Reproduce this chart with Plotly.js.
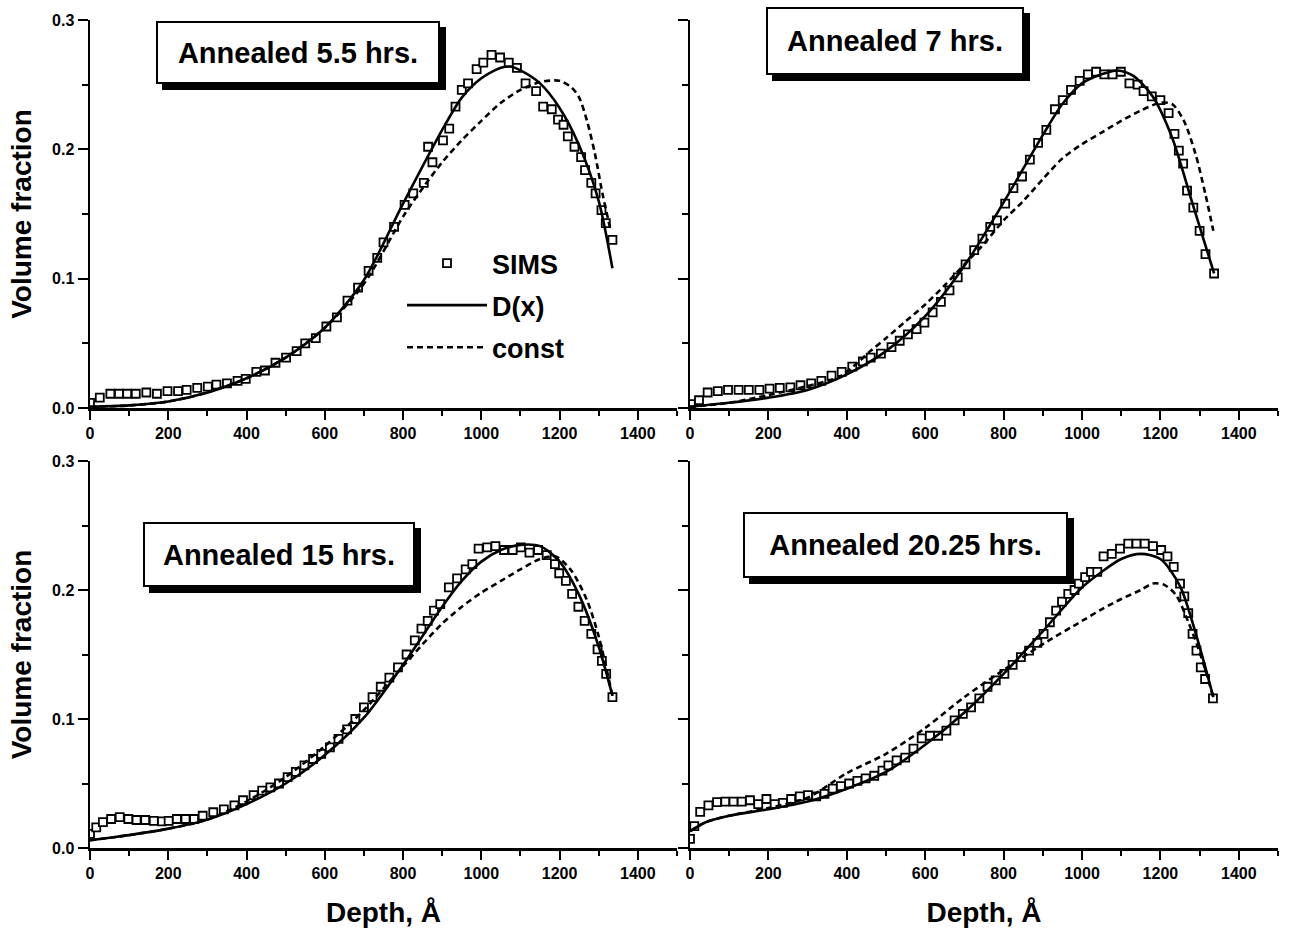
<!DOCTYPE html>
<html>
<head>
<meta charset="utf-8">
<script src="https://cdn.plot.ly/plotly-3.0.1.min.js"></script>
<style>html,body{margin:0;padding:0;background:#fff;}#chart{width:1290px;height:928px;}</style>
</head>
<body>
<div id="chart"></div>
<script>
// ---------- data ----------
const panelTitles = ["Annealed 5.5 hrs.", "Annealed 7 hrs.", "Annealed 15 hrs.", "Annealed 20.25 hrs."];
const seriesNames = ["SIMS", "D(x)", "const"];
const xTitle = "Depth, Å";
const yTitle = "Volume fraction";

// Panel 1: 5.5 hrs
const sims1X = [0,25,52,74,95,117,144,171,198,225,247,274,301,323,350,377,398,425,447,474,501,528,550,577,604,631,658,685,712,734,750,777,804,826,853,864,875,902,918,934,950,966,988,1005,1026,1048,1070,1091,1113,1140,1158,1180,1196,1210,1221,1238,1255,1265,1281,1292,1307,1318,1335];
const sims1Y = [0.004,0.008,0.011,0.011,0.011,0.011,0.012,0.011,0.013,0.013,0.014,0.0155,0.0165,0.018,0.019,0.021,0.0225,0.028,0.029,0.035,0.039,0.044,0.050,0.054,0.063,0.070,0.083,0.093,0.106,0.116,0.128,0.140,0.157,0.166,0.174,0.202,0.190,0.207,0.216,0.233,0.246,0.251,0.262,0.267,0.273,0.271,0.267,0.263,0.251,0.245,0.233,0.231,0.223,0.219,0.210,0.202,0.194,0.184,0.174,0.166,0.153,0.143,0.130];
const fit1X = [0,100,200,300,400,500,600,700,800,900,950,1000,1050,1075,1100,1150,1200,1250,1300,1335];
const d1Y = [0.001,0.002,0.005,0.012,0.023,0.039,0.062,0.099,0.158,0.215,0.240,0.255,0.263,0.264,0.261,0.251,0.232,0.203,0.160,0.108];
const c1X = [0,100,200,300,400,500,600,700,800,850,900,950,1000,1050,1100,1150,1200,1230,1250,1270,1290,1310,1330];
const c1Y = [0.001,0.002,0.005,0.012,0.023,0.039,0.062,0.096,0.148,0.170,0.190,0.207,0.222,0.236,0.246,0.252,0.253,0.248,0.240,0.222,0.197,0.165,0.138];

// Panel 2: 7 hrs
const sims2X = [2,23,45,71,97,124,150,177,203,229,256,282,309,335,361,387,414,441,461,487,514,535,556,578,598,619,640,662,683,703,725,746,766,783,804,825,847,867,888,909,931,951,972,994,1015,1036,1057,1078,1099,1121,1142,1157,1178,1200,1221,1236,1247,1258,1268,1284,1300,1315,1337];
const sims2Y = [0.003,0.006,0.012,0.013,0.014,0.014,0.014,0.014,0.015,0.0155,0.016,0.0176,0.019,0.021,0.025,0.028,0.032,0.036,0.039,0.042,0.047,0.052,0.057,0.061,0.066,0.074,0.082,0.091,0.101,0.111,0.122,0.131,0.140,0.145,0.158,0.170,0.179,0.192,0.205,0.215,0.231,0.238,0.246,0.253,0.258,0.260,0.258,0.258,0.260,0.251,0.250,0.245,0.241,0.238,0.228,0.212,0.199,0.189,0.168,0.155,0.137,0.119,0.104];
const fit2X = [0,100,200,300,400,500,600,700,800,900,950,1000,1050,1090,1130,1180,1230,1280,1337];
const d2Y = [0.001,0.004,0.008,0.014,0.026,0.044,0.071,0.110,0.159,0.211,0.235,0.251,0.258,0.261,0.257,0.241,0.209,0.160,0.104];
const c2X = [0,100,200,300,380,420,460,500,550,600,650,700,750,800,850,900,950,1000,1050,1100,1150,1200,1230,1260,1290,1315,1335];
const c2Y = [0.001,0.004,0.010,0.017,0.024,0.033,0.044,0.054,0.067,0.080,0.095,0.111,0.127,0.145,0.160,0.177,0.193,0.204,0.213,0.222,0.230,0.236,0.235,0.222,0.196,0.165,0.137];

// Panel 3: 15 hrs
const sims3X = [0,16,33,54,76,98,119,141,163,184,201,222,244,266,288,315,342,369,391,418,440,461,483,505,526,548,570,591,613,635,657,678,700,722,743,765,787,809,830,847,863,879,895,917,938,960,977,993,1015,1036,1058,1080,1101,1123,1145,1167,1188,1199,1216,1232,1248,1264,1281,1297,1308,1319,1335];
const sims3Y = [0.011,0.016,0.020,0.0225,0.024,0.0225,0.0217,0.0217,0.021,0.0207,0.021,0.0225,0.0225,0.0225,0.025,0.0277,0.030,0.033,0.037,0.041,0.0445,0.047,0.050,0.055,0.059,0.064,0.069,0.073,0.078,0.0846,0.092,0.100,0.109,0.117,0.125,0.132,0.140,0.150,0.161,0.170,0.176,0.184,0.189,0.202,0.209,0.216,0.220,0.232,0.233,0.234,0.231,0.231,0.233,0.229,0.231,0.227,0.220,0.213,0.207,0.197,0.187,0.176,0.166,0.154,0.145,0.135,0.117];
const fit3X = [0,50,100,200,300,400,500,600,700,800,900,950,1000,1050,1100,1150,1200,1250,1300,1335];
const d3Y = [0.006,0.008,0.010,0.015,0.022,0.034,0.050,0.072,0.101,0.142,0.187,0.207,0.222,0.231,0.235,0.234,0.222,0.196,0.156,0.118];
const c3X = [0,100,200,300,400,500,600,700,800,850,900,950,1000,1050,1100,1150,1190,1230,1270,1300,1335];
const c3Y = [0.006,0.010,0.015,0.022,0.036,0.055,0.079,0.107,0.141,0.158,0.174,0.187,0.198,0.207,0.216,0.224,0.226,0.215,0.192,0.164,0.118];

// Panel 4: 20.25 hrs
const sims4X = [0,11,26,47,69,90,111,132,153,174,195,216,237,258,280,301,322,343,364,385,406,427,448,470,491,506,527,549,570,591,612,633,654,675,696,717,738,759,780,802,823,844,865,886,902,918,934,949,965,981,992,1008,1023,1039,1055,1076,1097,1118,1139,1160,1181,1202,1218,1234,1250,1261,1271,1282,1292,1303,1314,1334];
const sims4Y = [0.007,0.017,0.028,0.033,0.0355,0.036,0.036,0.036,0.037,0.034,0.038,0.034,0.035,0.038,0.040,0.041,0.040,0.042,0.046,0.048,0.050,0.052,0.054,0.056,0.060,0.064,0.068,0.070,0.077,0.085,0.087,0.087,0.091,0.099,0.104,0.109,0.116,0.125,0.130,0.135,0.142,0.148,0.153,0.159,0.166,0.175,0.184,0.191,0.197,0.200,0.205,0.210,0.214,0.214,0.226,0.228,0.232,0.236,0.236,0.236,0.234,0.231,0.226,0.218,0.205,0.195,0.182,0.166,0.153,0.140,0.131,0.116];
const fit4X = [0,40,100,200,300,400,500,600,700,800,900,1000,1050,1100,1150,1200,1250,1300,1335];
const d4Y = [0.013,0.020,0.025,0.030,0.036,0.046,0.059,0.080,0.105,0.135,0.168,0.202,0.214,0.224,0.228,0.224,0.203,0.156,0.117];
const c4X = [0,40,100,200,300,400,500,600,700,800,900,1000,1050,1100,1150,1180,1210,1240,1270,1300,1335];
const c4Y = [0.013,0.020,0.025,0.031,0.039,0.058,0.073,0.093,0.117,0.138,0.158,0.176,0.185,0.193,0.200,0.205,0.204,0.196,0.176,0.152,0.117];

// ---------- chart ----------
const FONT = "Liberation Sans, Arial, sans-serif";
const panels = [
  {sx: sims1X, sy: sims1Y, fx: fit1X, dy: d1Y, cx: c1X, cy: c1Y},
  {sx: sims2X, sy: sims2Y, fx: fit2X, dy: d2Y, cx: c2X, cy: c2Y},
  {sx: sims3X, sy: sims3Y, fx: fit3X, dy: d3Y, cx: c3X, cy: c3Y},
  {sx: sims4X, sy: sims4Y, fx: fit4X, dy: d4Y, cx: c4X, cy: c4Y}
];
const traces = [];
panels.forEach((p, i) => {
  const xa = i === 0 ? 'x' : 'x' + (i + 1);
  const ya = i === 0 ? 'y' : 'y' + (i + 1);
  const first = i === 0;
  traces.push({
    x: p.sx, y: p.sy, xaxis: xa, yaxis: ya, type: 'scatter', mode: 'markers',
    name: seriesNames[0], showlegend: first, legendgroup: 'g1',
    marker: {symbol: 'square', size: 8, color: '#ffffff', line: {color: '#000', width: 1.8}}
  });
  traces.push({
    x: p.fx, y: p.dy, xaxis: xa, yaxis: ya, type: 'scatter', mode: 'lines',
    name: seriesNames[1], showlegend: first, legendgroup: 'g2',
    line: {color: '#000', width: 2.6, shape: 'spline', smoothing: 0.8}
  });
  traces.push({
    x: p.cx, y: p.cy, xaxis: xa, yaxis: ya, type: 'scatter', mode: 'lines',
    name: seriesNames[2], showlegend: first, legendgroup: 'g3',
    line: {color: '#000', width: 2.6, dash: '6px,4px', shape: 'spline', smoothing: 0.8}
  });
});

const tickFont = {family: FONT, size: 16, color: '#000', weight: 700};
const titleFont = {family: FONT, size: 28, color: '#000', weight: 700};
// trailing no-break spaces nudge the rotated title slightly below the axis centre, as in the original
const yTitleText = yTitle + '\u00a0\u00a0\u00a0\u00a0\u00a0';
function xax(domain, anchor, showTitle) {
  return {
    domain: domain, anchor: anchor, range: [0, 1500], dtick: 200, tick0: 0,
    showline: true, linecolor: '#000', linewidth: 2.5, showgrid: false, zeroline: false,
    ticks: 'outside', ticklen: 9, tickwidth: 2, tickcolor: '#000', tickfont: tickFont,
    minor: {dtick: 100, ticks: 'outside', ticklen: 5, tickwidth: 2, tickcolor: '#000', showgrid: false},
    title: showTitle ? {text: xTitle, font: titleFont, standoff: 22} : {text: ''}
  };
}
function yax(domain, anchor, showLabels) {
  return {
    domain: domain, anchor: anchor, range: [0, 0.3], dtick: 0.1, tick0: 0, tickformat: '.1f',
    showline: true, linecolor: '#000', linewidth: 2.5, showgrid: false, zeroline: false,
    ticks: 'outside', ticklen: 10, tickwidth: 2, tickcolor: '#000', tickfont: tickFont,
    showticklabels: showLabels,
    minor: {dtick: 0.05, ticks: 'outside', ticklen: 6, tickwidth: 2, tickcolor: '#000', showgrid: false},
    title: showLabels ? {text: yTitleText, font: titleFont, standoff: 12} : {text: ''}
  };
}
const L = [90/1290, 677/1290], R = [690/1290, 1278/1290];
const T = [(928-408)/928, (928-20)/928], B = [(928-848)/928, (928-461)/928];

const boxes = [
  {x: 298, y: 52.5, w: 284, h: 63},
  {x: 895, y: 41, w: 258, h: 68},
  {x: 279, y: 554.5, w: 272, h: 65},
  {x: 905.5, y: 545, w: 325, h: 66}
];
const annotations = [];
boxes.forEach((b, i) => {
  const common = {xref: 'paper', yref: 'paper', x: b.x/1290, y: (928-b.y)/928, xanchor: 'center', yanchor: 'middle',
    showarrow: false, width: b.w - 4, height: b.h - 4, borderpad: 0, borderwidth: 2, align: 'center', valign: 'middle'};
  // drop shadow (no text)
  annotations.push(Object.assign({}, common, {text: '\u00a0', bgcolor: '#000', bordercolor: '#000',
    xshift: 6, yshift: -6, font: {family: FONT, size: 12, color: '#000'}}));
  annotations.push(Object.assign({}, common, {text: panelTitles[i], bgcolor: '#fff', bordercolor: '#000',
    font: {family: FONT, size: 29, color: '#000', weight: 700}}));
});

const layout = {
  width: 1290, height: 928, margin: {l: 0, r: 0, t: 0, b: 0},
  paper_bgcolor: '#fff', plot_bgcolor: 'rgba(0,0,0,0)',
  font: {family: FONT, color: '#000'},
  xaxis: xax(L, 'y', false), yaxis: yax(T, 'x', true),
  xaxis2: xax(R, 'y2', false), yaxis2: yax(T, 'x2', false),
  xaxis3: xax(L, 'y3', true), yaxis3: yax(B, 'x3', true),
  xaxis4: xax(R, 'y4', true), yaxis4: yax(B, 'x4', false),
  showlegend: true,
  legend: {x: 402/1290, y: (928-239)/928, xanchor: 'left', yanchor: 'top', bgcolor: 'rgba(0,0,0,0)',
    borderwidth: 0, itemwidth: 80, tracegroupgap: 4, traceorder: 'grouped',
    font: {family: FONT, size: 27, color: '#000', weight: 700}},
  annotations: annotations
};
Plotly.newPlot('chart', traces, layout, {displayModeBar: false, staticPlot: true});
</script>
</body>
</html>
